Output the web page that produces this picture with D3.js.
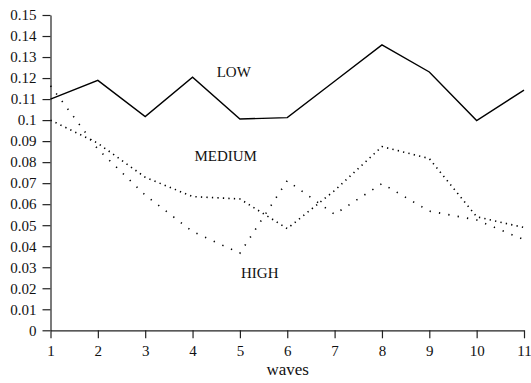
<!DOCTYPE html>
<html>
<head>
<meta charset="utf-8">
<script src="https://cdn.jsdelivr.net/npm/d3@7"></script>
<style>
  body { margin: 0; background: #fff; }
  svg text { font-family: "Liberation Serif", "Times New Roman", serif; fill: #111; }
  .axis path, .axis line { stroke: #222; stroke-width: 1.2; }
  .series { fill: none; stroke: #000; }
</style>
</head>
<body>
<svg id="chart" width="531" height="383"></svg>
<script>
// waves on the x axis
const waves = [1, 2, 3, 4, 5, 6, 7, 8, 9, 10, 11];

// series values
const lowValues    = [0.110, 0.1189, 0.1017, 0.1204, 0.1005, 0.1012, 0.1185, 0.1358, 0.1229, 0.0998, 0.1143];
const mediumValues = [0.100, 0.0890, 0.0728, 0.0636, 0.0625, 0.0484, 0.0665, 0.0874, 0.0817, 0.0540, 0.0489];
const highValues   = [0.1163, 0.0862, 0.0643, 0.0470, 0.0367, 0.0712, 0.0552, 0.0698, 0.0567, 0.0525, 0.0431];

const yTicks = [0, 0.01, 0.02, 0.03, 0.04, 0.05, 0.06, 0.07, 0.08, 0.09, 0.1, 0.11, 0.12, 0.13, 0.14, 0.15];
const yTickLabels = ["0", "0.01", "0.02", "0.03", "0.04", "0.05", "0.06", "0.07", "0.08", "0.09", "0.1", "0.11", "0.12", "0.13", "0.14", "0.15"];

// series labels, placed in data units
const seriesLabels = [
    { text: "LOW",    x: 4.87, y: 0.1205 },
    { text: "MEDIUM", x: 4.7,  y: 0.0805 },
    { text: "HIGH",   x: 5.42, y: 0.0250 }
];

const svg = d3.select("#chart");

const x = d3.scaleLinear().domain([1, 11]).range([50.5, 524]);
const y = d3.scaleLinear().domain([0, 0.15]).range([330.3, 15]);

// axes
svg.append("g")
    .attr("class", "axis")
    .attr("transform", "translate(0,330.3)")
    .call(d3.axisBottom(x).tickValues(waves).tickFormat(d3.format("d"))
        .tickSize(8).tickSizeOuter(0).tickPadding(7))
    .call(g => g.selectAll("text").attr("font-size", 15).attr("fill", "#111"));

svg.append("g")
    .attr("class", "axis")
    .attr("transform", "translate(50.5,0)")
    .call(d3.axisLeft(y).tickValues(yTicks).tickFormat((d, i) => yTickLabels[i])
        .tickSize(8).tickSizeOuter(0).tickPadding(6))
    .call(g => g.selectAll("text").attr("font-size", 15).attr("fill", "#111"));

svg.append("text")
    .attr("x", 287.7)
    .attr("y", 374.5)
    .attr("text-anchor", "middle")
    .attr("font-size", 17)
    .text("waves");

// lines
const line = d3.line()
    .x((d, i) => x(waves[i]))
    .y(d => y(d));

svg.append("path")
    .datum(lowValues)
    .attr("class", "series")
    .attr("stroke-width", 1.4)
    .attr("d", line);

svg.append("path")
    .datum(mediumValues)
    .attr("class", "series")
    .attr("stroke-width", 1.6)
    .attr("stroke-dasharray", "1.3,4.2")
    .attr("d", line);

svg.append("path")
    .datum(highValues)
    .attr("class", "series")
    .attr("stroke-width", 1.6)
    .attr("stroke-dasharray", "1.3,8.2")
    .attr("d", line);

// series labels
svg.append("g")
    .selectAll("text")
    .data(seriesLabels)
    .enter().append("text")
    .attr("x", d => x(d.x))
    .attr("y", d => y(d.y))
    .attr("text-anchor", "middle")
    .attr("font-size", 15)
    .text(d => d.text);
</script>
</body>
</html>
